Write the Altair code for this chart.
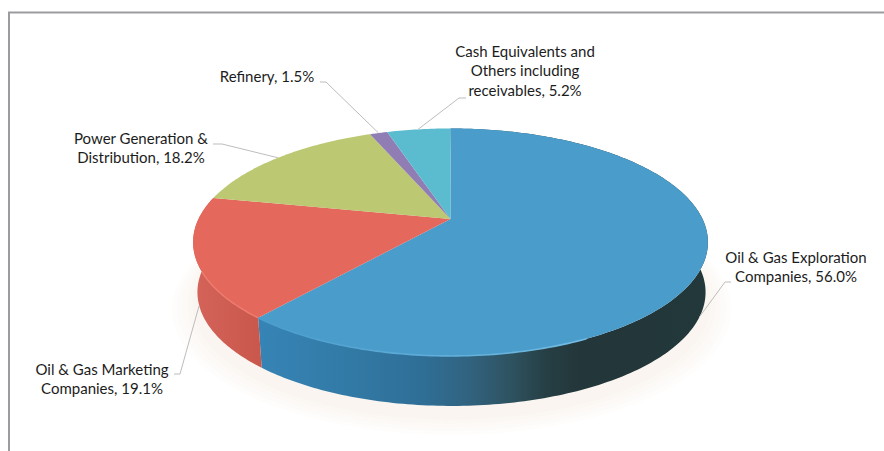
import math
import altair as alt

# Portfolio split, in percent
categories = [
    "Oil & Gas Exploration Companies",
    "Oil & Gas Marketing Companies",
    "Power Generation & Distribution",
    "Refinery",
    "Cash Equivalents and Others including receivables",
]
shares = [56.0, 19.1, 18.2, 1.5, 5.2]
label_lines = [
    ["Oil & Gas Exploration", "Companies, 56.0%"],
    ["Oil & Gas Marketing", "Companies, 19.1%"],
    ["Power Generation &", "Distribution, 18.2%"],
    ["Refinery, 1.5%"],
    ["Cash Equivalents and", "Others including", "receivables, 5.2%"],
]
face_colors = ["#4a9ccb", "#e4685c", "#bcc872", "#8f7db3", "#5bbcd0"]

# Page layout: canvas size, pie geometry and the tilted-disc projection
W, H = 884, 451
APEX_X, APEX_Y = 450.5, 219.0
RIM_A, RIM_B, RIM_K = 252.0, 109.0, -0.204
DEPTH = 50.0
BASE_SQUEEZE = 0.987
WARP_DEG, WARP_POW = 19.0, 1.5

# Where each slice's label sits (centre x, first-line y) and its leader elbow
label_pos = [(796, 258), (102, 370), (141, 139), (267, 77), (525, 52)]
leader_elbow = [((725, 282), (731, 282)), ((180, 374), (174, 374)),
                ((222, 144), (213, 144)), ((326, 82), (320, 82)),
                ((459, 98), (466, 98))]
leader_on_side = [True, True, False, False, False]
LINE_STEP = 19.3


def rim(pct, base=False):
    """Rim point for a cumulative percentage, clockwise from twelve o'clock."""
    t = pct * 3.6
    phi = math.radians(t + WARP_DEG * math.sin(math.radians(t / 2)) ** WARP_POW)
    d = 1 - RIM_K * math.cos(phi)
    x = RIM_A * math.sin(phi) / d
    y = -RIM_B * math.cos(phi) / d
    if base:
        return [APEX_X + x * BASE_SQUEEZE + 1, APEX_Y + y + DEPTH]
    return [APEX_X + x, APEX_Y + y]


def arc(p0, p1, base=False):
    n = max(2, int(abs(p1 - p0) * 4))
    return [rim(p0 + (p1 - p0) * i / n, base) for i in range(n + 1)]


def polygon(points):
    return {"type": "Feature", "properties": {},
            "geometry": {"type": "Polygon", "coordinates": [points + [points[0]]]}}


def path(points):
    return {"type": "Feature", "properties": {},
            "geometry": {"type": "LineString", "coordinates": points}}


def shape(feature, **mark):
    return alt.Chart(alt.Data(values=[feature])).mark_geoshape(**mark).project(
        type="identity", scale=1, translate=[0, 0])


def ramp(stops):
    return alt.Gradient(gradient="linear", x1=0, x2=1, y1=0, y2=0,
                        stops=[alt.GradientStop(offset=o, color=c) for o, c in stops])


edges = [sum(shares[:i]) for i in range(len(shares) + 1)]
layers = []

# Soft shadow under the disc
for grow in (1.10, 1.08, 1.06, 1.04, 1.02):
    ring = [[APEX_X + (p[0] - APEX_X) * grow, APEX_Y + 10 + (p[1] - APEX_Y) * grow]
            for p in arc(0, 100, True)]
    layers.append(shape(polygon(ring), fill="#c9ad90", opacity=0.028, stroke=None))

# Side wall, only the two front slices show
blue_wall = arc(0, edges[1]) + arc(0, edges[1], True)[::-1]
layers.append(shape(polygon(blue_wall), stroke=None, fill=ramp([
    (0.0, "#3684b6"), (0.20, "#327aa6"), (0.36, "#2f6f97"), (0.47, "#31637f"),
    (0.56, "#2e5361"), (0.64, "#263f45"), (0.72, "#233639"), (1.0, "#22383b")])))
red_wall = arc(edges[1], edges[2]) + arc(edges[1], edges[2], True)[::-1]
layers.append(shape(polygon(red_wall), stroke=None, fill=ramp([
    (0.0, "#d4635a"), (1.0, "#c9574b")])))

# Top face
for i, color in enumerate(face_colors):
    wedge = [[APEX_X, APEX_Y]] + arc(edges[i], edges[i + 1])
    layers.append(shape(polygon(wedge), fill=color, stroke=None))

# Bevel highlight along the front rim
layers.append(shape(path(arc(edges[1] - 18, edges[1])), filled=False, strokeWidth=1.6,
                    stroke=ramp([(0.0, "#4a9ccb"), (1.0, "#72bce4")])))
layers.append(shape(path(arc(edges[1], edges[1] + 7)), filled=False, strokeWidth=1.4,
                    stroke="#ee7d70"))

# Leader lines, drawn from the middle of each slice's rim
leader_rows = []
for i, name in enumerate(categories):
    mid = (edges[i] + edges[i + 1]) / 2
    start = rim(mid, leader_on_side[i])
    for j, pt in enumerate([tuple(start)] + list(leader_elbow[i])):
        leader_rows.append({"name": name, "step": j, "x": pt[0], "y": pt[1]})

x_scale = alt.Scale(domain=[0, W], range=[0, W])
y_scale = alt.Scale(domain=[0, H], range=[0, H])
layers.append(
    alt.Chart(alt.Data(values=leader_rows)).mark_line(color="#bdbdbd", strokeWidth=1).encode(
        x=alt.X("x:Q", scale=x_scale, axis=None),
        y=alt.Y("y:Q", scale=y_scale, axis=None),
        detail="name:N",
        order="step:Q",
    )
)

# Slice labels
text_rows = []
for lines, (cx, cy) in zip(label_lines, label_pos):
    for k, line in enumerate(lines):
        text_rows.append({"text": line, "x": cx, "y": cy + k * LINE_STEP})
layers.append(
    alt.Chart(alt.Data(values=text_rows)).mark_text(
        font="Lato", fontSize=15, color="#1c1c1c", align="center", baseline="middle"
    ).encode(
        x=alt.X("x:Q", scale=x_scale, axis=None),
        y=alt.Y("y:Q", scale=y_scale, axis=None),
        text="text:N",
    )
)

# Frame: the top and left edges of the panel
frame_rows = [
    {"edge": "top", "step": 0, "x": W, "y": 12.5},
    {"edge": "top", "step": 1, "x": 9, "y": 12.5},
    {"edge": "top", "step": 2, "x": 9, "y": H},
]
layers.append(
    alt.Chart(alt.Data(values=frame_rows)).mark_line(color="#9c9ca0", strokeWidth=2).encode(
        x=alt.X("x:Q", scale=x_scale, axis=None),
        y=alt.Y("y:Q", scale=y_scale, axis=None),
        order="step:Q",
    )
)

chart = alt.layer(*layers).properties(
    width=W, height=H, padding=0, background="white",
    autosize=alt.AutoSizeParams(type="none"),
).configure_view(stroke=None).resolve_scale(x="shared", y="shared")

chart.save("out.html", embed_options={"renderer": "svg", "actions": False})
